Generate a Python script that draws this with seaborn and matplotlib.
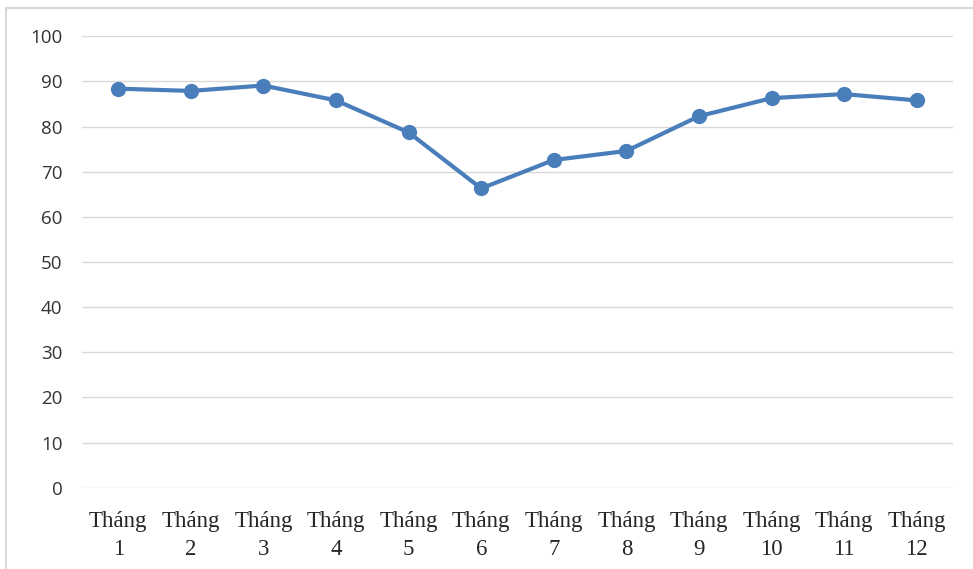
import matplotlib
matplotlib.use("Agg")
import matplotlib.pyplot as plt
import seaborn as sns
import pandas as pd
from matplotlib.patches import Rectangle

months = [f"Tháng\n{i}" for i in range(1, 13)]
values = [88.4, 87.9, 89.1, 85.8, 78.7, 66.3, 72.6, 74.6, 82.3, 86.3, 87.2, 85.8]
y_ticks = [0, 10, 20, 30, 40, 50, 60, 70, 80, 90, 100]

df = pd.DataFrame({"month": months, "value": values})

sns.set_theme(style="white")
fig = plt.figure(figsize=(9.73, 5.69), dpi=100)
ax = fig.add_axes([82 / 973, 1 - 487.7 / 569, (953 - 82) / 973, (487.7 - 36.3) / 569])

sns.lineplot(data=df, x="month", y="value", ax=ax, sort=False,
             color="#4a7ebb", linewidth=3.0, marker="o", markersize=11,
             markeredgewidth=0)

ax.set_xlim(-0.5, len(months) - 0.5)
ax.set_ylim(0, 100)
ax.set_yticks(y_ticks)
ax.set_yticklabels([str(t) for t in y_ticks], fontfamily="Open Sans", fontsize=13.5, color="#333333")
ax.set_xticks(range(len(months)))
ax.set_xticklabels(months, fontfamily="Liberation Serif", fontsize=16.5, color="#262626", linespacing=1.4)
ax.tick_params(axis="both", length=0)
ax.tick_params(axis="y", pad=14)
ax.tick_params(axis="x", pad=17)
ax.yaxis.grid(True, color="#d9d9d9", linewidth=1)
ax.xaxis.grid(False)
for s in ax.spines.values():
    s.set_visible(False)
ax.set_xlabel("")
ax.set_ylabel("")

fig.patches.append(Rectangle((6 / 973, -0.1), 1.1, 1 - 8 / 569 + 0.1,
                             transform=fig.transFigure, fill=False,
                             edgecolor="#d9d9d9", linewidth=1.5))

fig.savefig("out.png", dpi=100)
